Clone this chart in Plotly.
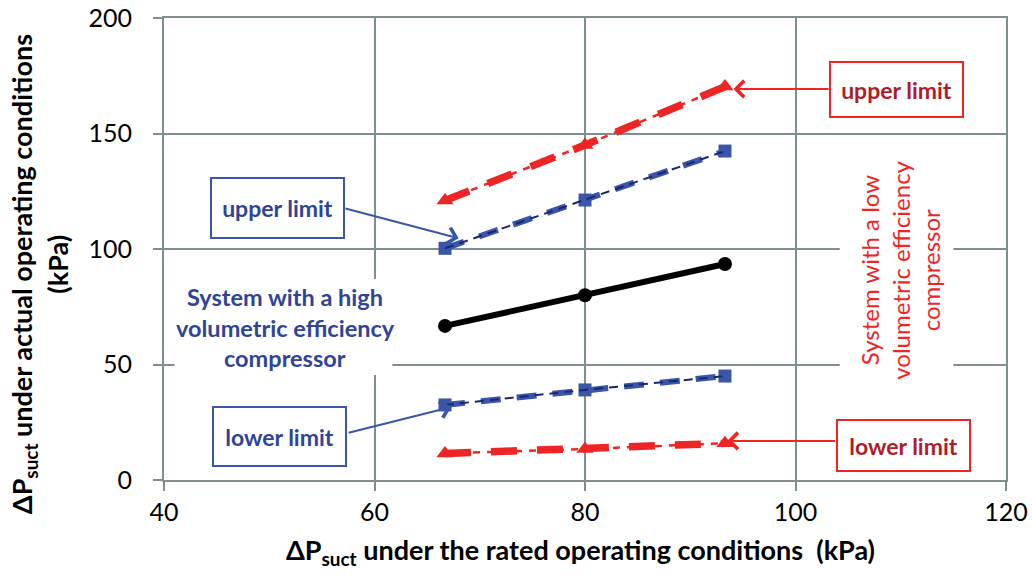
import plotly.graph_objects as go

# Rated-condition suction pressure drop (kPa)
rated_dp = [66.7, 80.0, 93.3]

# Actual-condition suction pressure drop (kPa)
nominal_dp = [66.7, 80.0, 93.5]
high_eff_upper = [100.3, 121.2, 142.4]
high_eff_lower = [32.5, 39.0, 45.0]
low_eff_upper = [121.0, 145.0, 170.3]
low_eff_lower = [11.5, 13.4, 15.9]

x_ticks = [40, 60, 80, 100, 120]
y_ticks = [0, 50, 100, 150, 200]

FONT = "Lato"
GRID = "#7f8f8f"
BLUE = "#3a56a8"
NAVY = "#1c2670"
BLUE_TXT = "#2e4596"
RED = "#ee2525"
RED_TXT = "#b01c28"

fig = go.Figure()

# low-efficiency compressor limits: thin short dashes under thick long dashes
for ys in (low_eff_upper, low_eff_lower):
    fig.add_trace(go.Scatter(x=rated_dp, y=ys, mode="lines",
                             line=dict(color=RED, width=2.5, dash="7px,7px"),
                             hoverinfo="skip", showlegend=False))
    fig.add_trace(go.Scatter(x=rated_dp, y=ys, mode="lines+markers",
                             line=dict(color=RED, width=7.5, dash="26px,20px"),
                             marker=dict(symbol="triangle-up", size=15, color=RED),
                             showlegend=False))

# high-efficiency compressor limits
for ys in (high_eff_upper, high_eff_lower):
    fig.add_trace(go.Scatter(x=rated_dp, y=ys, mode="lines+markers",
                             line=dict(color=BLUE, width=6, dash="20px,16px"),
                             marker=dict(symbol="square", size=13, color=BLUE),
                             showlegend=False))
    fig.add_trace(go.Scatter(x=rated_dp, y=ys, mode="lines",
                             line=dict(color=NAVY, width=2, dash="9px,6px"),
                             hoverinfo="skip", showlegend=False))

# equality line
fig.add_trace(go.Scatter(x=rated_dp, y=nominal_dp, mode="lines+markers",
                         line=dict(color="black", width=6),
                         marker=dict(symbol="circle", size=14, color="black"),
                         showlegend=False))

annotations = []


def box(x, y, text, border, color, w, h):
    annotations.append(dict(
        x=x, y=y, xref="x", yref="y", text=f"<b>{text}</b>", showarrow=False,
        font=dict(family=FONT, size=23, color=color),
        bgcolor="white", bordercolor=border, borderwidth=2, borderpad=0,
        width=w, height=h, xanchor="center", yanchor="middle"))


def arrow(x0, y0, x1, y1, color):
    annotations.append(dict(
        x=x1, y=y1, ax=x0, ay=y0, xref="x", yref="y", axref="x", ayref="y",
        text="", showarrow=True, arrowhead=4, arrowsize=1.6, arrowwidth=2,
        arrowcolor=color))


arrow(57.1, 117.7, 68.0, 104.6, BLUE)
arrow(57.4, 20.3, 67.3, 31.6, BLUE)
arrow(103.3, 169.3, 94.1, 169.3, RED)
arrow(103.9, 16.9, 93.5, 16.9, RED)

box(50.83, 117.6, "upper limit", BLUE, BLUE_TXT, 131, 58)
box(51.02, 18.9, "lower limit", BLUE, BLUE_TXT, 131, 57)
box(109.6, 169.2, "upper limit", RED, RED_TXT, 131, 53)
box(110.25, 14.9, "lower limit", RED, RED_TXT, 131, 49)

for txt, yv in zip(["System with a high", "volumetric efficiency", "compressor"],
                   [79.2, 65.8, 52.6]):
    annotations.append(dict(x=51.5, y=yv, xref="x", yref="y", text=f"<b>{txt}</b>",
                            showarrow=False,
                            font=dict(family=FONT, size=23.5, color=BLUE_TXT)))

for txt, xv in zip(["System with a low", "volumetric efficiency", "compressor"],
                   [107.0, 109.9, 112.8]):
    annotations.append(dict(x=xv, y=90.9, xref="x", yref="y", text=txt,
                            textangle=-90, showarrow=False,
                            font=dict(family=FONT, size=24, color=RED)))

# axis titles
annotations.append(dict(x=0.495, y=-0.155, xref="paper", yref="paper",
                        xanchor="center", yanchor="middle",
                        text="<b>ΔP<sub>suct</sub> under the rated operating conditions  (kPa)</b>",
                        showarrow=False, font=dict(family=FONT, size=27, color="black")))
annotations.append(dict(x=-0.166, y=0.446, xref="paper", yref="paper",
                        xanchor="center", yanchor="middle",
                        text="<b>ΔP<sub>suct</sub> under actual operating conditions</b>",
                        textangle=-90, showarrow=False,
                        font=dict(family=FONT, size=27, color="black")))
annotations.append(dict(x=-0.126, y=0.468, xref="paper", yref="paper",
                        xanchor="center", yanchor="middle",
                        text="<b>(kPa)</b>", textangle=-90, showarrow=False,
                        font=dict(family=FONT, size=27, color="black")))

# white patches that break the grid behind the compressor labels
shapes = [
    dict(type="rect", xref="x", yref="y", x0=41.0, x1=61.7, y0=45.5, y1=87.0,
         fillcolor="white", line=dict(width=0), layer="between"),
    dict(type="rect", xref="x", yref="y", x0=104.2, x1=115.0, y0=43.0, y1=138.0,
         fillcolor="white", line=dict(width=0), layer="between"),
]

axis_common = dict(showgrid=True, gridcolor=GRID, gridwidth=2,
                   showline=True, linecolor=GRID, linewidth=2, mirror=True,
                   ticks="outside", ticklen=9, tickcolor=GRID, tickwidth=2,
                   zeroline=False, automargin=False,
                   tickfont=dict(family=FONT, size=25, color="black"))

fig.update_layout(
    width=1032, height=579,
    margin=dict(l=164, r=26, t=18, b=99),
    plot_bgcolor="white", paper_bgcolor="white",
    xaxis=dict(range=[40, 120], tickvals=x_ticks, ticklabelstandoff=0, **axis_common),
    yaxis=dict(range=[0, 200], tickvals=y_ticks, ticklabelstandoff=16, **axis_common),
    annotations=annotations,
    shapes=shapes,
)

fig.write_html("out.html")
